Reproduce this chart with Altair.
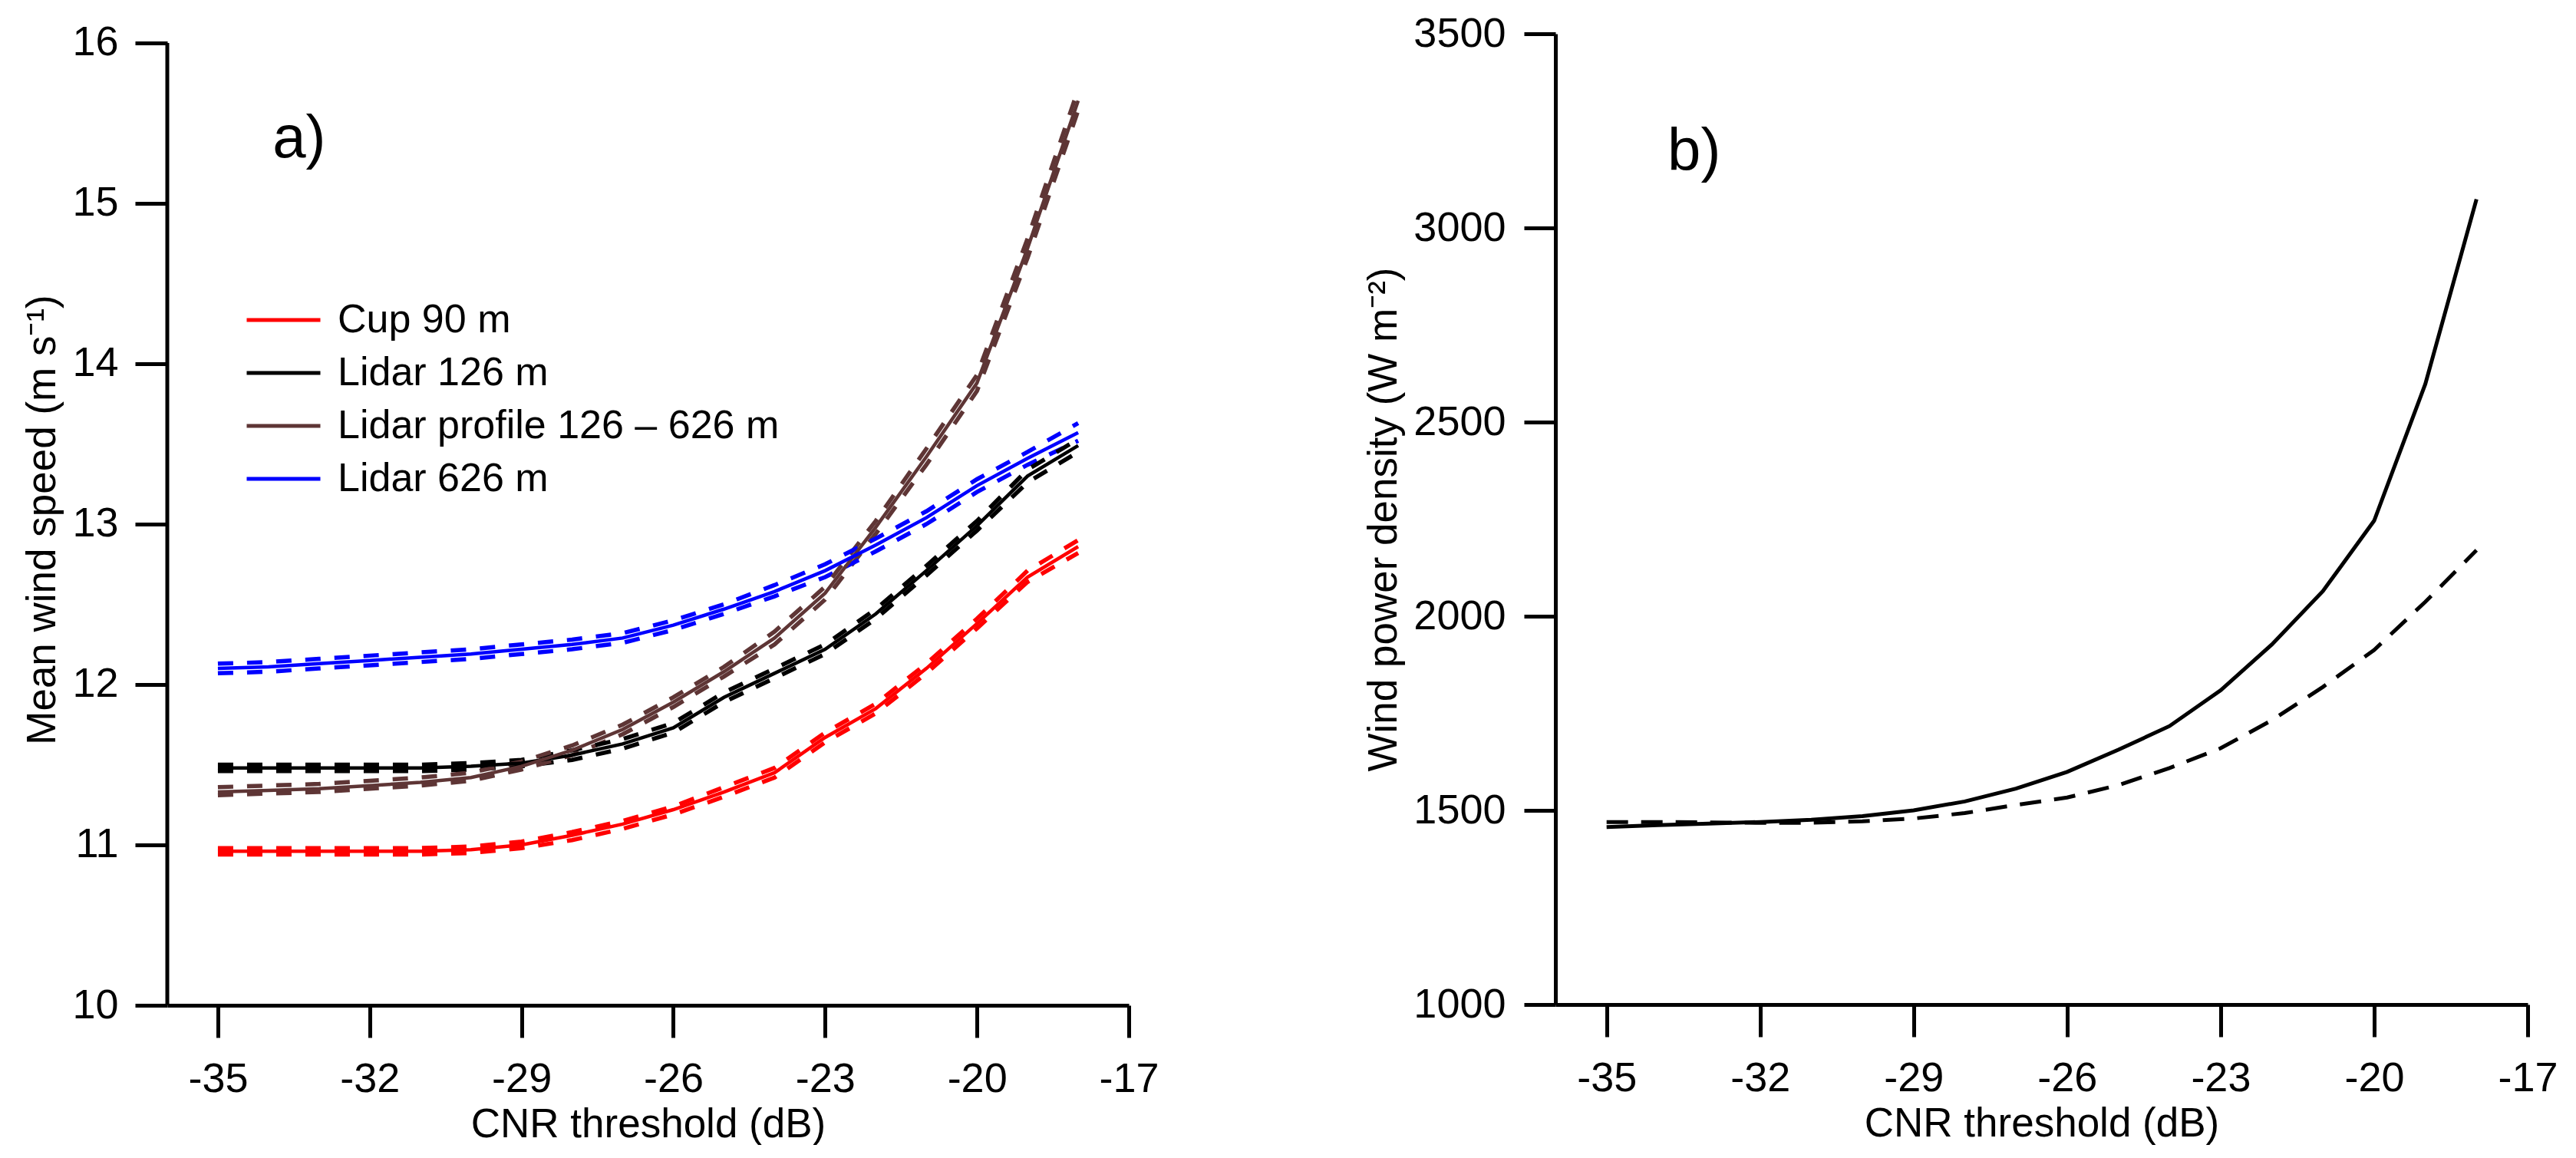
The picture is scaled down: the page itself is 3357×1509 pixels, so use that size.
import altair as alt
import pandas as pd

# ---------------- data ----------------
cnr = [-35, -34, -33, -32, -31, -30, -29, -28, -27, -26, -25, -24, -23, -22, -21, -20, -19, -18]

series_names = ["Cup 90 m", "Lidar 126 m", "Lidar profile 126 – 626 m", "Lidar 626 m"]
series_colors = ["#ff0000", "#000000", "#5e3535", "#0000ff"]

cup_mean = [10.96, 10.96, 10.96, 10.96, 10.96, 10.97, 11.00, 11.06, 11.13, 11.22, 11.33, 11.45, 11.67, 11.85, 12.10, 12.38, 12.67, 12.86]
cup_lo = [10.94, 10.94, 10.94, 10.94, 10.94, 10.95, 10.98, 11.03, 11.10, 11.19, 11.30, 11.42, 11.64, 11.82, 12.07, 12.35, 12.64, 12.82]
cup_hi = [10.98, 10.98, 10.98, 10.98, 10.98, 10.99, 11.02, 11.08, 11.15, 11.24, 11.36, 11.48, 11.70, 11.88, 12.13, 12.41, 12.71, 12.90]

l126_mean = [11.48, 11.48, 11.48, 11.48, 11.48, 11.49, 11.51, 11.56, 11.63, 11.73, 11.92, 12.07, 12.22, 12.44, 12.71, 12.99, 13.30, 13.49]
l126_lo = [11.46, 11.46, 11.46, 11.46, 11.46, 11.47, 11.49, 11.53, 11.60, 11.70, 11.89, 12.04, 12.19, 12.41, 12.68, 12.96, 13.26, 13.45]
l126_hi = [11.50, 11.50, 11.50, 11.50, 11.50, 11.51, 11.53, 11.59, 11.66, 11.76, 11.95, 12.10, 12.25, 12.47, 12.74, 13.02, 13.34, 13.53]

prof_mean = [11.33, 11.34, 11.35, 11.37, 11.39, 11.42, 11.49, 11.59, 11.72, 11.89, 12.08, 12.29, 12.57, 12.98, 13.42, 13.88, 14.72, 15.64]
prof_lo = [11.31, 11.32, 11.33, 11.35, 11.37, 11.40, 11.47, 11.56, 11.69, 11.86, 12.05, 12.25, 12.53, 12.94, 13.37, 13.83, 14.66, 15.58]
prof_hi = [11.36, 11.37, 11.38, 11.40, 11.42, 11.45, 11.52, 11.62, 11.75, 11.92, 12.11, 12.33, 12.61, 13.02, 13.47, 13.93, 14.78, 15.71]

l626_mean = [12.10, 12.11, 12.13, 12.15, 12.17, 12.19, 12.22, 12.25, 12.29, 12.37, 12.47, 12.58, 12.71, 12.87, 13.04, 13.24, 13.41, 13.57]
l626_lo = [12.07, 12.08, 12.10, 12.12, 12.14, 12.16, 12.19, 12.22, 12.26, 12.34, 12.44, 12.55, 12.67, 12.83, 13.00, 13.20, 13.37, 13.52]
l626_hi = [12.13, 12.14, 12.16, 12.18, 12.20, 12.22, 12.25, 12.28, 12.32, 12.40, 12.50, 12.62, 12.75, 12.91, 13.08, 13.28, 13.45, 13.63]

wpd_solid = [1457, 1462, 1466, 1470, 1476, 1485, 1500, 1523, 1556, 1599, 1656, 1717, 1809, 1927, 2065, 2246, 2598, 3074]
wpd_dashed = [1470, 1470, 1469, 1468, 1468, 1472, 1479, 1493, 1514, 1533, 1565, 1609, 1660, 1732, 1818, 1913, 2037, 2170]

x_ticks = [-35, -32, -29, -26, -23, -20, -17]
ya_ticks = [10, 11, 12, 13, 14, 15, 16]
yb_ticks = [1000, 1500, 2000, 2500, 3000, 3500]

# ---------------- tables ----------------
rows = []
for name, col, m, lo, hi in zip(series_names, series_colors,
                                [cup_mean, l126_mean, prof_mean, l626_mean],
                                [cup_lo, l126_lo, prof_lo, l626_lo],
                                [cup_hi, l126_hi, prof_hi, l626_hi]):
    for xv, a, b, c in zip(cnr, m, lo, hi):
        rows.append({"cnr": xv, "series": name, "col": col, "mean": a, "lo": b, "hi": c})
dfa = pd.DataFrame(rows)
dfb = pd.DataFrame({"cnr": cnr, "solid": wpd_solid, "dashed": wpd_dashed})

FONT = "Liberation Sans"
LAB = 54
TIT = 53

# ---------------- panel a ----------------
xa_scale = alt.Scale(domain=[-36, -17], nice=False, zero=False)
ya_scale = alt.Scale(domain=[10, 16.0574], nice=False, zero=False)

x_axis_a = alt.Axis(values=x_ticks, labelExpr="'' + datum.value", title="CNR threshold (dB)",
                    labelFontSize=LAB, titleFontSize=TIT, tickSize=42, tickWidth=5, domainWidth=5,
                    labelPadding=27, titleY=155, titleBaseline="middle", labelFlush=False)
y_axis_a = alt.Axis(values=ya_ticks, title="Mean wind speed  (m s\u207b\u00b9)", domain=False,
                    labelExpr="'' + datum.value",
                    labelFontSize=LAB, titleFontSize=TIT, tickSize=42, tickWidth=5,
                    labelPadding=22, titlePadding=11, labelFlush=False)


def xa(field="cnr"):
    return alt.X(f"{field}:Q", scale=xa_scale, axis=x_axis_a)


def ya(field):
    return alt.Y(f"{field}:Q", scale=ya_scale, axis=y_axis_a)


legend = alt.Legend(title=None, orient="none", legendX=101, legendY=347, symbolType="stroke",
                    symbolSize=9216, symbolStrokeWidth=5, labelFontSize=52, labelFont=FONT,
                    labelOffset=20, clipHeight=52, rowPadding=17, padding=0, labelLimit=1000,
                    labelColor="black")

color_leg = alt.Color("series:N", scale=alt.Scale(domain=series_names, range=series_colors), legend=legend)

base_a = alt.Chart(dfa)
dash_lo = base_a.mark_line(strokeWidth=5.5, strokeDash=[20, 18]).encode(
    x=xa(), y=ya("lo"), stroke=alt.Stroke("col:N", scale=None), detail="series:N")
dash_hi = base_a.mark_line(strokeWidth=5.5, strokeDash=[20, 18]).encode(
    x=xa(), y=ya("hi"), stroke=alt.Stroke("col:N", scale=None), detail="series:N")
solid_a = base_a.mark_line(strokeWidth=4.5).encode(x=xa(), y=ya("mean"), color=color_leg)

axis_line_a = alt.Chart(pd.DataFrame({"cnr": [-36], "mean": [10], "top": [16]})).mark_rule(
    color="black", strokeWidth=5).encode(x=xa(), y=ya("mean"), y2="top:Q")

label_a = alt.Chart(pd.DataFrame({"cnr": [-33.92], "mean": [15.287], "t": ["a)"]})).mark_text(
    align="left", baseline="alphabetic", fontSize=78, font=FONT, color="black").encode(
    x=xa(), y=ya("mean"), text="t:N")

panel_a = alt.layer(dash_lo, dash_hi, solid_a, axis_line_a, label_a).properties(width=1253, height=1266)

# ---------------- panel b ----------------
xb_scale = alt.Scale(domain=[-36, -17], nice=False, zero=False)
yb_scale = alt.Scale(domain=[1000, 3500], nice=False, zero=False)
x_axis_b = alt.Axis(values=x_ticks, labelExpr="'' + datum.value", title="CNR threshold (dB)",
                    labelFontSize=LAB, titleFontSize=TIT, tickSize=42, tickWidth=5, domainWidth=5,
                    labelPadding=27, titleY=155, titleBaseline="middle", labelFlush=False)
y_axis_b = alt.Axis(values=yb_ticks, labelExpr="'' + datum.value", title="Wind power density (W m\u207b\u00b2)",
                    labelFontSize=LAB, titleFontSize=TIT, tickSize=41, tickWidth=5, domainWidth=5,
                    labelPadding=24, titlePadding=11, labelFlush=False)


def xb(field="cnr"):
    return alt.X(f"{field}:Q", scale=xb_scale, axis=x_axis_b)


def yb(field):
    return alt.Y(f"{field}:Q", scale=yb_scale, axis=y_axis_b)


base_b = alt.Chart(dfb)
solid_b = base_b.mark_line(strokeWidth=5, color="black").encode(x=xb(), y=yb("solid"))
dashed_b = base_b.mark_line(strokeWidth=5, color="black", strokeDash=[28, 17]).encode(x=xb(), y=yb("dashed"))
label_b = alt.Chart(pd.DataFrame({"cnr": [-33.81], "solid": [3148], "t": ["b)"]})).mark_text(
    align="left", baseline="alphabetic", fontSize=78, font=FONT, color="black").encode(
    x=xb(), y=yb("solid"), text="t:N")

panel_b = alt.layer(dashed_b, solid_b, label_b).properties(width=1267, height=1265)

chart = alt.hconcat(panel_a, panel_b, spacing=266).resolve_scale(
    x="independent", y="independent", color="independent"
).properties(
    padding={"left": 21, "top": 9, "right": 0, "bottom": 0},
    background="white",
).configure_axis(
    labelFont=FONT, titleFont=FONT, labelColor="black", titleColor="black",
    domainColor="black", tickColor="black", grid=False, titleFontWeight="normal",
).configure_view(stroke=None)

chart.save("out.html", embed_options={"renderer": "svg", "actions": False})
